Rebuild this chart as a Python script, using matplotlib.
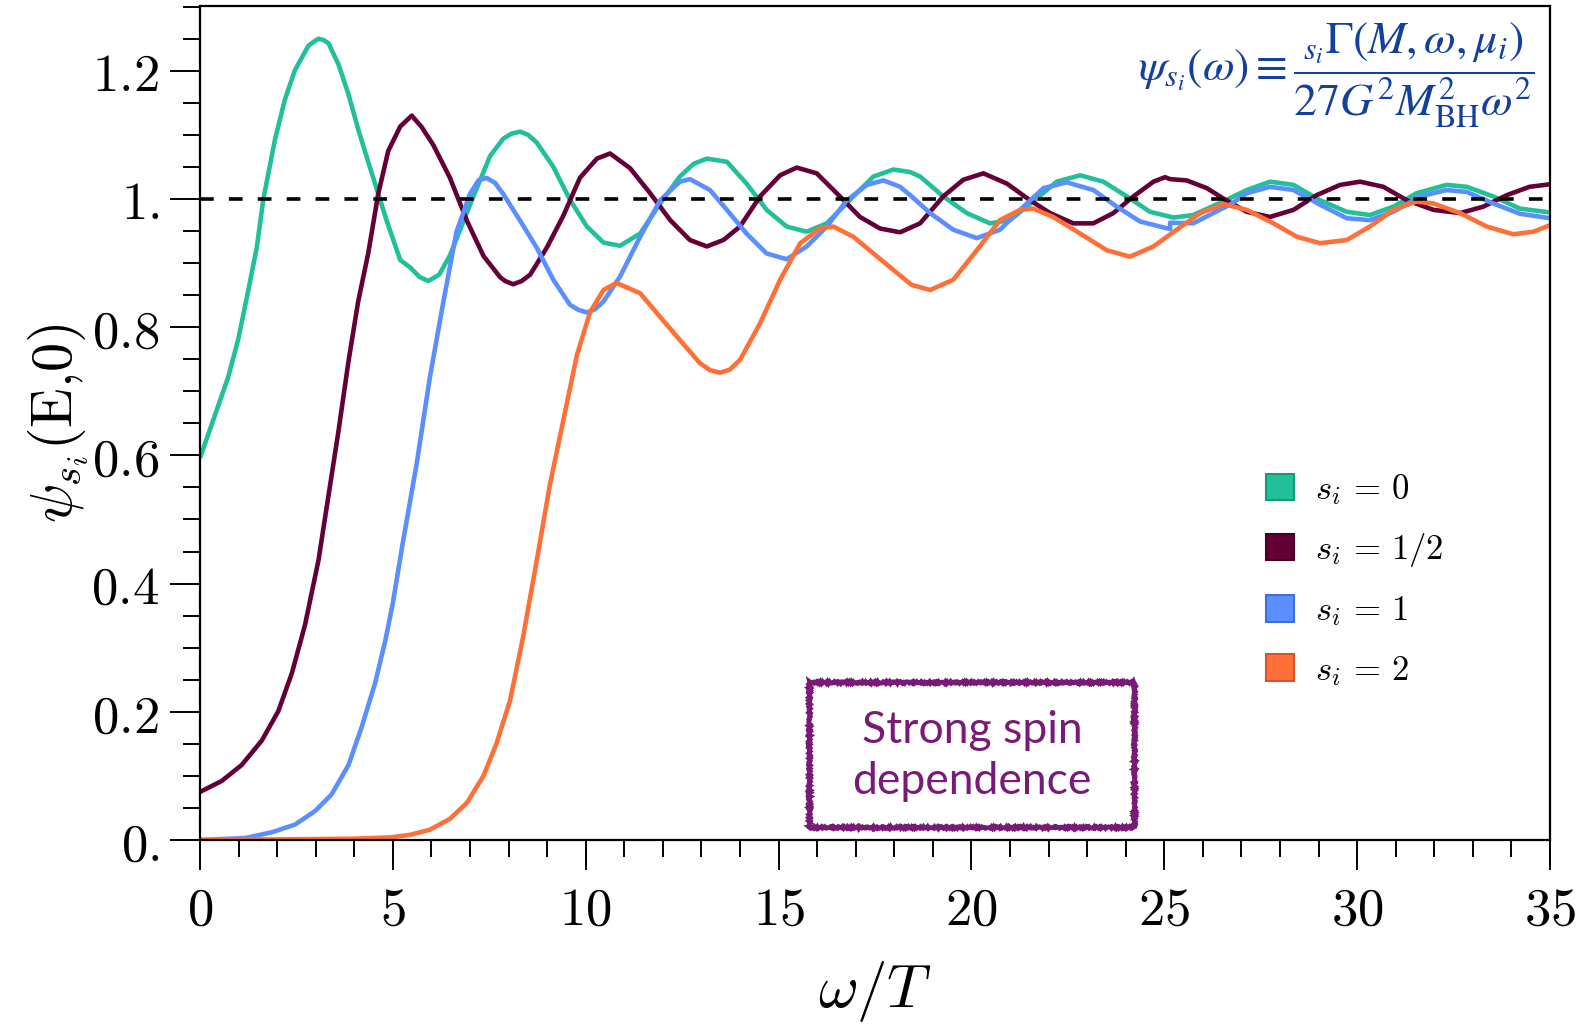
import numpy as np
import matplotlib.pyplot as plt
from matplotlib.patches import Patch, Rectangle
from matplotlib.ticker import FixedLocator, FixedFormatter, MultipleLocator

plt.rcParams['mathtext.fontset'] = 'cm'

# omega/T and psi values, one pair of lists per spin
x_s0 = [0, 0.73, 0.99, 1.25, 1.47, 1.64, 1.94, 2.20, 2.46, 2.81, 2.94, 3.07, 3.20, 3.33, 3.59,
        3.85, 4.10, 4.36, 4.58, 4.84, 5.19, 5.45, 5.70, 5.92, 6.20, 6.48, 7.0, 7.52, 7.86,
        8.08, 8.30, 8.51, 8.73, 9.16, 9.59, 10.03, 10.46, 10.89, 11.41, 11.93, 12.44, 12.80,
        13.14, 13.66, 14.17, 14.69, 15.21, 15.73, 16.25, 16.94, 17.46, 17.98, 18.41, 18.67,
        19.27, 19.88, 20.48, 21.0, 21.6, 22.21, 22.82, 23.42, 24.03, 24.63, 25.24, 25.75,
        26.45, 27.14, 27.74, 28.35, 29.04, 29.73, 30.33, 30.94, 31.54, 32.32, 32.84, 33.53,
        34.22, 35.0]
y_s0 = [0.596, 0.722, 0.781, 0.857, 0.924, 0.999, 1.092, 1.155, 1.201, 1.239, 1.245, 1.250,
        1.248, 1.243, 1.210, 1.163, 1.109, 1.058, 1.016, 0.966, 0.905, 0.893, 0.878, 0.872,
        0.882, 0.912, 0.991, 1.067, 1.094, 1.102, 1.105, 1.100, 1.088, 1.050, 0.999, 0.957,
        0.932, 0.927, 0.946, 0.993, 1.035, 1.055, 1.063, 1.058, 1.024, 0.983, 0.957, 0.949,
        0.962, 1.004, 1.035, 1.046, 1.042, 1.035, 1.004, 0.978, 0.962, 0.967, 0.996, 1.027,
        1.037, 1.027, 1.004, 0.980, 0.971, 0.975, 0.994, 1.014, 1.027, 1.022, 0.998, 0.980,
        0.975, 0.988, 1.009, 1.022, 1.019, 1.004, 0.985, 0.979]

x_s12 = [0, 0.56, 1.08, 1.60, 2.03, 2.38, 2.72, 3.07, 3.33, 3.59, 3.85, 4.10, 4.36, 4.62,
         4.88, 5.19, 5.49, 5.75, 6.05, 6.48, 6.92, 7.35, 7.78, 7.91, 8.12, 8.34, 8.56, 8.99,
         9.42, 9.85, 10.29, 10.63, 11.15, 11.67, 12.19, 12.70, 13.14, 13.57, 14.0, 14.52,
         15.04, 15.47, 15.99, 16.59, 17.11, 17.63, 18.15, 18.67, 19.27, 19.79, 20.31, 20.92,
         21.52, 22.04, 22.64, 23.16, 23.68, 24.20, 24.72, 25.02, 25.15, 25.58, 26.10, 26.55,
         27.14, 27.74, 28.35, 28.95, 29.56, 30.08, 30.68, 31.29, 31.98, 32.67, 33.27, 33.88,
         34.47, 35.0]
y_s12 = [0.075, 0.092, 0.117, 0.155, 0.201, 0.260, 0.335, 0.436, 0.537, 0.638, 0.747, 0.840,
         0.915, 1.008, 1.075, 1.113, 1.130, 1.112, 1.084, 1.033, 0.966, 0.911, 0.878, 0.872,
         0.867, 0.872, 0.882, 0.924, 0.974, 1.033, 1.063, 1.071, 1.048, 1.009, 0.967, 0.936,
         0.926, 0.936, 0.957, 1.004, 1.037, 1.049, 1.040, 1.004, 0.972, 0.954, 0.948, 0.962,
         1.004, 1.030, 1.040, 1.024, 0.998, 0.978, 0.962, 0.962, 0.978, 1.004, 1.027, 1.034,
         1.031, 1.029, 1.017, 1.000, 0.980, 0.972, 0.983, 1.006, 1.022, 1.027, 1.019, 0.998,
         0.983, 0.978, 0.988, 1.006, 1.019, 1.023]

x_s1 = [0, 1.17, 1.86, 2.46, 2.98, 3.41, 3.85, 4.19, 4.54, 4.80, 5.0, 5.25, 5.62, 5.96,
        6.31, 6.65, 7.0, 7.22, 7.43, 7.65, 7.86, 8.30, 8.73, 9.16, 9.59, 9.81, 10.03, 10.24,
        10.46, 10.89, 11.41, 11.93, 12.44, 12.70, 13.22, 13.66, 14.17, 14.69, 15.21, 15.73,
        16.25, 16.77, 17.29, 17.72, 18.15, 18.41, 18.93, 19.53, 20.14, 20.74, 21.35, 21.87,
        22.47, 23.16, 23.77, 24.37, 25.15, 25.15, 25.75, 26.27, 26.70, 27.14, 27.74, 28.35,
        29.04, 29.73, 30.33, 30.94, 31.63, 32.32, 32.84, 33.53, 34.22, 35.0]
y_s1 = [0.0, 0.003, 0.012, 0.024, 0.045, 0.071, 0.117, 0.176, 0.245, 0.310, 0.370, 0.461,
        0.588, 0.722, 0.840, 0.949, 1.008, 1.029, 1.033, 1.025, 1.008, 0.966, 0.924, 0.874,
        0.835, 0.827, 0.823, 0.828, 0.840, 0.879, 0.941, 0.998, 1.027, 1.031, 1.014, 0.983,
        0.946, 0.915, 0.906, 0.926, 0.957, 0.998, 1.022, 1.029, 1.019, 1.006, 0.978, 0.952,
        0.939, 0.952, 0.988, 1.017, 1.026, 1.014, 0.988, 0.965, 0.953, 0.963, 0.962, 0.978,
        0.991, 1.009, 1.019, 1.014, 0.991, 0.970, 0.967, 0.980, 1.004, 1.014, 1.011, 0.993,
        0.977, 0.970]

x_s2 = [0, 2.0, 4.0, 4.93, 5.44, 5.96, 6.48, 6.92, 7.35, 7.69, 8.04, 8.38, 8.73, 9.07,
        9.42, 9.77, 10.11, 10.46, 10.80, 11.41, 11.93, 12.44, 12.96, 13.22, 13.48, 13.74,
        14.0, 14.52, 15.04, 15.56, 16.07, 16.42, 16.94, 17.46, 17.98, 18.45, 18.93, 19.53,
        20.14, 20.74, 21.26, 21.6, 22.12, 22.82, 23.51, 24.11, 24.72, 25.32, 25.93, 26.55,
        27.14, 27.83, 28.44, 29.04, 29.73, 30.33, 30.94, 31.54, 31.98, 32.67, 33.36, 34.05,
        34.57, 35.0]
y_s2 = [0.0, 0.001, 0.002, 0.004, 0.008, 0.016, 0.033, 0.058, 0.100, 0.151, 0.218, 0.318,
        0.436, 0.554, 0.655, 0.756, 0.823, 0.858, 0.869, 0.853, 0.816, 0.780, 0.744, 0.733,
        0.729, 0.734, 0.749, 0.806, 0.874, 0.931, 0.954, 0.957, 0.941, 0.915, 0.889, 0.866,
        0.858, 0.874, 0.920, 0.967, 0.983, 0.985, 0.972, 0.946, 0.920, 0.910, 0.926, 0.952,
        0.978, 0.992, 0.983, 0.962, 0.941, 0.931, 0.936, 0.957, 0.983, 0.996, 0.993, 0.978,
        0.957, 0.945, 0.949, 0.959]

labels = [r'$s_i\,=\,0$', r'$s_i\,=\,1/2$', r'$s_i\,=\,1$', r'$s_i\,=\,2$']
colors = ['#22C09A', '#650036', '#5B8EFF', '#FF7038']
edges = ['#189A7A', '#450024', '#3E6ED6', '#D4532A']

ytick_vals = [0, 0.2, 0.4, 0.6, 0.8, 1.0, 1.2]
ytick_text = [r'$0.$', r'$0.2$', r'$0.4$', r'$0.6$', r'$0.8$', r'$1.$', r'$1.2$']
xtick_vals = [0, 5, 10, 15, 20, 25, 30, 35]

fig = plt.figure(figsize=(15.85, 10.25), dpi=100)
ax = fig.add_axes([0.1262, 0.1805, 0.8517, 0.8136])

series = [(x_s0, y_s0), (x_s12, y_s12), (x_s1, y_s1), (x_s2, y_s2)]
for (xs, ys), c in zip(series, colors):
    ax.plot(xs, ys, color=c, lw=3.3, solid_joinstyle='round', solid_capstyle='butt')

ax.axhline(1.0, color='black', lw=2.6, dashes=(3.8, 4.2), zorder=5)

ax.set_xlim(0, 35)
ax.set_ylim(0, 1.301)

ax.yaxis.set_major_locator(FixedLocator(ytick_vals))
ax.yaxis.set_major_formatter(FixedFormatter(ytick_text))
ax.yaxis.set_minor_locator(MultipleLocator(0.05))
ax.xaxis.set_major_locator(FixedLocator(xtick_vals))
ax.xaxis.set_major_formatter(FixedFormatter([f'${v}$' for v in xtick_vals]))
ax.xaxis.set_minor_locator(MultipleLocator(1))

ax.tick_params(which='both', direction='out', top=False, right=False, width=1.4)
ax.tick_params(which='major', length=21.5, labelsize=38)
ax.tick_params(which='minor', length=12)
ax.tick_params(axis='x', which='major', pad=10)
ax.tick_params(axis='y', which='major', pad=8)
for s in ax.spines.values():
    s.set_linewidth(1.6)

ax.set_xlabel(r'$\omega/T$', fontsize=44, labelpad=17)
ax.set_ylabel(r'$\psi_{s_i}(\mathrm{E{,}0})$', fontsize=42, labelpad=0)

ax.text(0.989, 0.917,
        r'$\psi_{s_i}(\omega) \equiv \dfrac{{}_{s_i}\Gamma(M,\omega,\mu_i)}{27G^2M_{\mathrm{BH}}^2\omega^2}$',
        transform=ax.transAxes, ha='right', va='center', fontsize=33,
        color='#1240A0', math_fontfamily='stix')

handles = [Patch(facecolor=c, edgecolor=e, lw=1.5) for c, e in zip(colors, edges)]
ax.legend(handles, labels, loc='center left', bbox_to_anchor=(0.7896, 0.312),
          frameon=False, fontsize=25, handlelength=0.8, handleheight=0.8,
          handletextpad=0.6, labelspacing=0.7, borderpad=0, borderaxespad=0)

box = Rectangle((0.451, 0.0156), 0.241, 0.1734, transform=ax.transAxes,
                fill=False, edgecolor='#7A1A78', lw=3.4)
box.set_sketch_params(0.9, 2.5, 2)
ax.add_patch(box)
ax.text(0.572, 0.1007, 'Strong spin\ndependence', transform=ax.transAxes,
        ha='center', va='center', fontsize=32, color='#7A1A78',
        family='Lato', linespacing=1.3)

fig.savefig('out.png', dpi=100)
